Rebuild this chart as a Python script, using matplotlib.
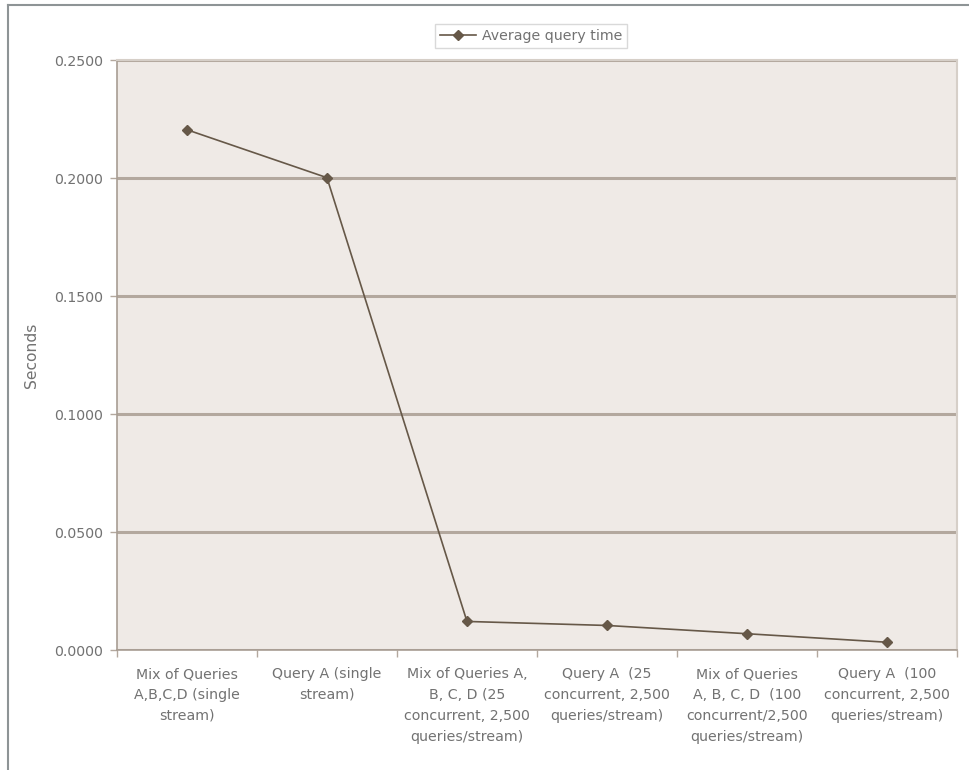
import matplotlib.pyplot as plt
import numpy as np
from matplotlib.lines import Line2D

# query categories and measured average times (seconds)
categories = [
    "Mix of Queries\nA,B,C,D (single\nstream)",
    "Query A (single\nstream)",
    "Mix of Queries A,\nB, C, D (25\nconcurrent, 2,500\nqueries/stream)",
    "Query A  (25\nconcurrent, 2,500\nqueries/stream)",
    "Mix of Queries\nA, B, C, D  (100\nconcurrent/2,500\nqueries/stream)",
    "Query A  (100\nconcurrent, 2,500\nqueries/stream)",
]
avg_query_time = [0.2205, 0.2002, 0.0123, 0.0106, 0.0071, 0.0035]
y_ticks = [0.0, 0.05, 0.10, 0.15, 0.20, 0.25]

text_color = "#727272"
line_color = "#665848"
grid_color = "#b3a89e"
fs = 10.2

plt.rcParams["font.family"] = ["DejaVu Sans"]

fig = plt.figure(figsize=(9.69, 7.70), dpi=100)
ax = fig.add_axes([0.1207, 0.1552, 0.8669, 0.7668])
ax.set_facecolor("#efeae6")

x = np.arange(len(categories))
ax.plot(x, avg_query_time, color=line_color, lw=1.2, marker="D", ms=5,
        mec=line_color, mfc=line_color, zorder=3)

ax.set_xlim(-0.5, len(categories) - 0.5)
ax.set_ylim(0, 0.25)
ax.set_yticks(y_ticks)
ax.set_yticklabels([f"{v:.4f}" for v in y_ticks])
ax.yaxis.grid(True, color=grid_color, lw=2.2)
ax.set_axisbelow(True)

# category labels centred, ticks on the boundaries
ax.set_xticks(x)
ax.set_xticklabels(categories, fontsize=fs, color=text_color, linespacing=1.62)
ax.set_xticks(np.arange(len(categories) + 1) - 0.5, minor=True)
ax.tick_params(axis="x", which="major", length=0, pad=12)
ax.tick_params(axis="x", which="minor", length=5, color=grid_color, width=1)
ax.tick_params(axis="y", length=5, color=grid_color, width=1,
               labelsize=fs, labelcolor=text_color, pad=5)

for side in ["left", "bottom"]:
    ax.spines[side].set_color("#a89d93")
    ax.spines[side].set_linewidth(1.2)
for side in ["top", "right"]:
    ax.spines[side].set_color("#d6cfc8")
    ax.spines[side].set_linewidth(1.5)

ax.set_ylabel("Seconds", fontsize=fs + 1, color=text_color)
ax.yaxis.set_label_coords(-0.093, 0.50)

handle = Line2D([], [], color=line_color, lw=1.2, marker="D", ms=5)
leg = fig.legend([handle], ["Average query time"], loc="center",
                 bbox_to_anchor=(531 / 969, 1 - 36 / 770), fontsize=fs,
                 frameon=True, fancybox=False, handlelength=2.6,
                 borderpad=0.35, handletextpad=0.4)
leg.get_frame().set_edgecolor("#d0d0d0")
leg.get_frame().set_linewidth(1.0)
for t in leg.get_texts():
    t.set_color(text_color)

# outer frame lines on left and top
fig.add_artist(Line2D([8 / 969, 8 / 969], [0, 1 - 5 / 770], transform=fig.transFigure,
                      color="#8e9496", lw=1.5))
fig.add_artist(Line2D([8 / 969, 1], [1 - 5 / 770, 1 - 5 / 770], transform=fig.transFigure,
                      color="#8e9496", lw=1.5))

fig.savefig("out.png", dpi=100)
